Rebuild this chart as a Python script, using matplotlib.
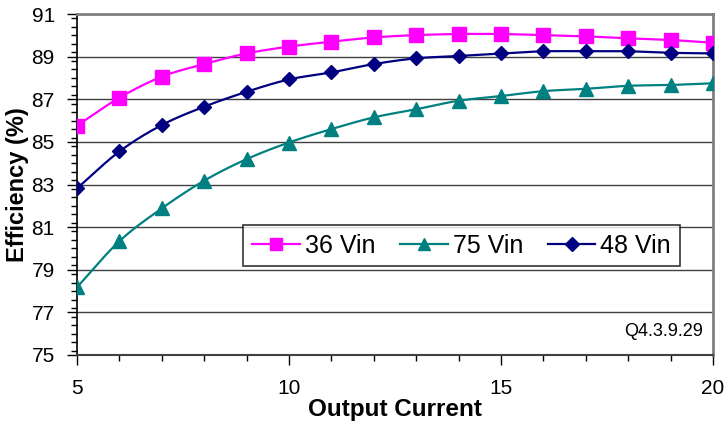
import numpy as np
import matplotlib
matplotlib.use("Agg")
import matplotlib.pyplot as plt
from matplotlib.ticker import MultipleLocator

plt.rcParams['font.family'] = ['Liberation Sans', 'DejaVu Sans']

current = [5, 6, 7, 8, 9, 10, 11, 12, 13, 14, 15, 16, 17, 18, 19, 20]
eff_36vin = [85.76, 87.07, 88.06, 88.65, 89.15, 89.47, 89.70, 89.90,
             90.01, 90.06, 90.06, 90.01, 89.95, 89.86, 89.78, 89.65]
eff_75vin = [78.18, 80.34, 81.88, 83.18, 84.19, 84.97, 85.60, 86.15,
             86.53, 86.93, 87.15, 87.38, 87.49, 87.63, 87.67, 87.75]
eff_48vin = [82.82, 84.55, 85.79, 86.65, 87.35, 87.93, 88.26, 88.65,
             88.92, 89.03, 89.15, 89.25, 89.25, 89.25, 89.18, 89.15]
y_ticks = [75, 77, 79, 81, 83, 85, 87, 89, 91]
x_ticks = [5, 10, 15, 20]


def smooth(x, y, n=20):
    """Catmull-Rom curve through the points (smoothed line)."""
    x = np.asarray(x, float)
    y = np.asarray(y, float)
    px = np.concatenate([[2 * x[0] - x[1]], x, [2 * x[-1] - x[-2]]])
    py = np.concatenate([[2 * y[0] - y[1]], y, [2 * y[-1] - y[-2]]])
    xs, ys = [], []
    t = np.linspace(0, 1, n, endpoint=False)
    for i in range(1, len(px) - 2):
        for arr, out in ((px, xs), (py, ys)):
            p0, p1, p2, p3 = arr[i - 1], arr[i], arr[i + 1], arr[i + 2]
            out.extend(0.5 * ((2 * p1) + (-p0 + p2) * t
                              + (2 * p0 - 5 * p1 + 4 * p2 - p3) * t ** 2
                              + (-p0 + 3 * p1 - 3 * p2 + p3) * t ** 3))
    xs.append(x[-1])
    ys.append(y[-1])
    return np.array(xs), np.array(ys)


fig = plt.figure(figsize=(7.25, 4.29), dpi=100)
ax = fig.add_axes([77 / 725, 1 - 355 / 429, 636 / 725, 341 / 429])

series = [
    ("36 Vin", eff_36vin, "#FF00FF", "s", 9.5),
    ("75 Vin", eff_75vin, "#008080", "^", 9.5),
    ("48 Vin", eff_48vin, "#000080", "D", 7.5),
]
handles = []
for label, vals, color, marker, ms in series:
    sx, sy = smooth(current, vals)
    ax.plot(sx, sy, color=color, lw=1.6, zorder=3)
    ax.plot(current, vals, linestyle='none', marker=marker, ms=ms,
            color=color, zorder=4)
    h, = ax.plot([], [], color=color, lw=1.6, marker=marker, ms=ms * 0.9,
                 label=label)
    handles.append(h)

ax.set_xlim(5, 20)
ax.set_ylim(75, 91)
ax.set_xticks(x_ticks)
ax.set_yticks(y_ticks)
ax.xaxis.set_minor_locator(MultipleLocator(1))
ax.yaxis.set_minor_locator(MultipleLocator(0.4))
ax.tick_params(axis='both', which='major', direction='out', length=7,
               width=1, labelsize=15, colors='black')
ax.tick_params(axis='both', which='minor', direction='out', length=4,
               width=1)
ax.tick_params(axis='x', which='major', pad=10)
ax.tick_params(axis='y', which='major', pad=9)
ax.yaxis.grid(True, which='major', color='#404040', lw=1)
ax.set_axisbelow(True)

for side in ('top', 'right'):
    ax.spines[side].set_color('#808080')
    ax.spines[side].set_linewidth(2)
ax.spines['left'].set_color('black')
ax.spines['bottom'].set_color('#404040')
ax.spines['left'].set_linewidth(1.2)
ax.spines['bottom'].set_linewidth(1.5)

ax.set_xlabel("Output Current", fontsize=17.5, fontweight='bold', labelpad=0)
ax.set_ylabel("Efficiency (%)", fontsize=17, fontweight='bold', labelpad=2)

leg = ax.legend(handles=handles, ncol=3, loc='center',
                bbox_to_anchor=(0.6046, 0.321), fontsize=18,
                frameon=True, fancybox=False, edgecolor='black',
                handlelength=1.9, columnspacing=1.0, handletextpad=0.2,
                borderpad=0.35, borderaxespad=0)
leg.get_frame().set_linewidth(1.2)

ax.text(0.985, 0.068, "Q4.3.9.29", transform=ax.transAxes,
        ha='right', va='center', fontsize=13)

fig.savefig("out.png", dpi=100)
